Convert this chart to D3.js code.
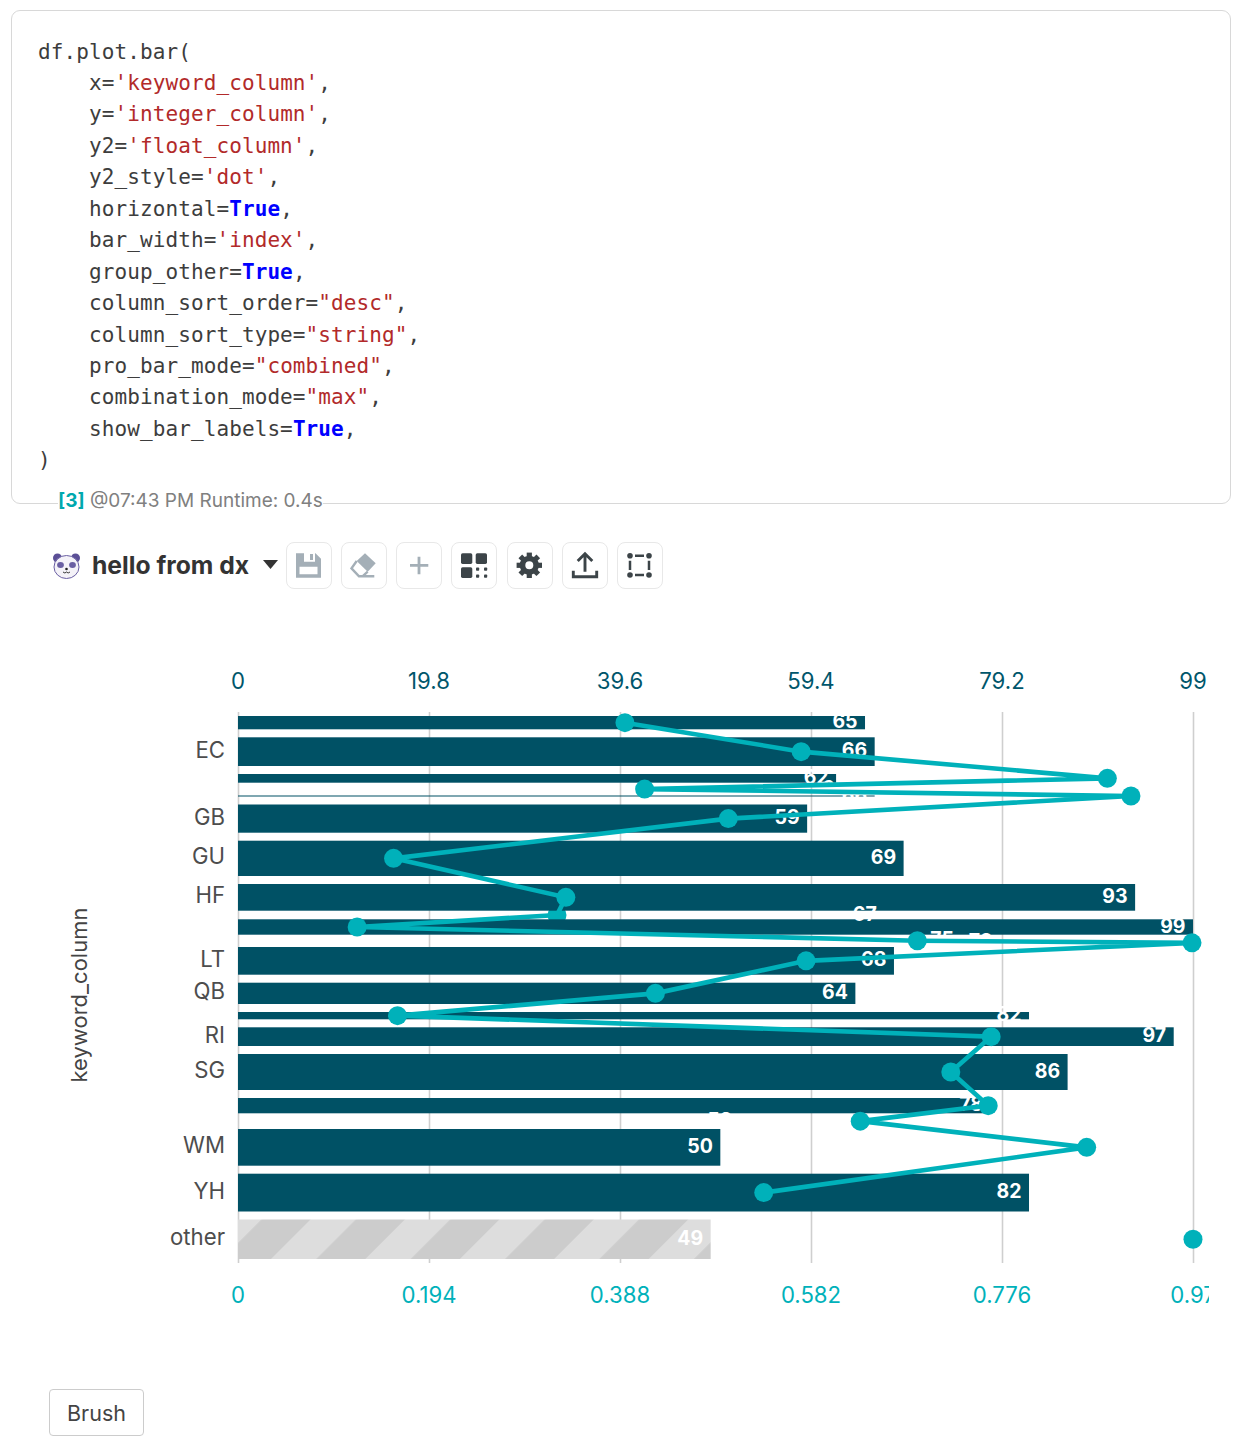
<!DOCTYPE html>
<html>
<head>
<meta charset="utf-8">
<script src="https://d3js.org/d3.v7.min.js"></script>
<style>
  html, body { margin: 0; padding: 0; background: #fff; }
  body { position: relative; width: 1245px; height: 1441px; overflow: hidden; font-family: Inter, sans-serif; }
  #cell { position: absolute; left: 11px; top: 10px; width: 1218px; height: 492px; border: 1px solid #d8d8d8; border-radius: 9px; }
  #code { position: absolute; left: 38px; top: 36.5px; margin: 0; font: 21px/31.45px "DejaVu Sans Mono", monospace; letter-spacing: 0.1px; color: #3d3d3d; }
  #code .s { color: #b22a2a; }
  #code .k { color: #0000ff; font-weight: bold; }
  #run { position: absolute; left: 58px; top: 490px; background: #fff; font-size: 19px; line-height: 22px; color: #808080; white-space: pre; }
  #run b { color: #00a8ae; }
  #title { position: absolute; left: 92px; top: 550px; font-size: 24.7px; line-height: 31px; font-weight: 700; color: #333; }
  .btn { position: absolute; top: 541.5px; width: 46.5px; height: 47px; box-sizing: border-box; border: 1px solid #e8e8e8; border-radius: 8px; }
  #brush { position: absolute; left: 49px; top: 1389px; width: 93px; height: 45px; border: 1px solid #ccc; border-radius: 4px; font-size: 21.5px; line-height: 46px; text-align: center; color: #444; }
  svg { position: absolute; left: 0; top: 0; }
</style>
</head>
<body>
<div id="cell"></div>
<pre id="code">df.plot.bar(
    x=<span class="s">'keyword_column'</span>,
    y=<span class="s">'integer_column'</span>,
    y2=<span class="s">'float_column'</span>,
    y2_style=<span class="s">'dot'</span>,
    horizontal=<span class="k">True</span>,
    bar_width=<span class="s">'index'</span>,
    group_other=<span class="k">True</span>,
    column_sort_order=<span class="s">"desc"</span>,
    column_sort_type=<span class="s">"string"</span>,
    pro_bar_mode=<span class="s">"combined"</span>,
    combination_mode=<span class="s">"max"</span>,
    show_bar_labels=<span class="k">True</span>,
)</pre>
<div id="run"><b>[3]</b> @07:43 PM Runtime: 0.4s</div>
<div id="title">hello from dx</div>
<div class="btn" style="left:285.5px"></div>
<div class="btn" style="left:340.5px"></div>
<div class="btn" style="left:395.5px"></div>
<div class="btn" style="left:450.5px"></div>
<div class="btn" style="left:506.5px"></div>
<div class="btn" style="left:561.5px"></div>
<div class="btn" style="left:616.5px"></div>
<div id="brush">Brush</div>

<script>
// chart data, rows top to bottom (blank = label hidden in the chart)
const categories = ["", "EC", "", "", "", "GB", "GU", "HF", "", "", "", "", "LT", "QB", "", "RI", "SG", "", "", "WM", "YH", "other"];
const integerColumn = [65, 66, 62, 64, 66, 59, 69, 93, 67, 99, 75, 79, 68, 64, 82, 97, 86, 78, 52, 50, 82, 49];
const floatColumn = [0.393, 0.572, 0.883, 0.413, 0.907, 0.498, 0.158, 0.333, 0.324, 0.121, 0.690, 0.969, 0.577, 0.424, 0.162, 0.765, 0.724, 0.762, 0.632, 0.862, 0.534, 0.97];
// bar_width='index' : thickness of each row
const indexColumn = [21.3, 36.7, 16.7, 4.8, 9, 36.2, 43.3, 34.7, 0.6, 23.4, 4, 0.3, 35.7, 29.3, 15.3, 26.7, 44, 23.3, 7.7, 44.7, 45.8, 47.5];
const topTicks = [0, 19.8, 39.6, 59.4, 79.2, 99];
const bottomTicks = [0, 0.194, 0.388, 0.582, 0.776, 0.97];

const barColor = "#005165", dotColor = "#00b1ba";
const margin = {top: 712, left: 238, bottom: 1263, right: 1193};
const rowGap = 8;

const svg = d3.select("body").append("svg")
    .attr("width", 1209)
    .attr("height", 1441)
    .style("overflow", "hidden");

// hatch for the "other" row
const defs = svg.append("defs");
const hatch = defs.append("pattern")
    .attr("id", "hatch")
    .attr("patternUnits", "userSpaceOnUse")
    .attr("width", 66.75)
    .attr("height", 66.75)
    .attr("patternTransform", "translate(1530 0) rotate(45)");
hatch.append("rect").attr("width", 66.75).attr("height", 66.75).attr("fill", "#cccccc");
hatch.append("rect").attr("width", 32.1).attr("height", 66.75).attr("fill", "#dddddd");

// scales
const x = d3.scaleLinear().domain([0, 99]).range([margin.left, margin.right]);
const x2 = d3.scaleLinear().domain([0, 0.97]).range([margin.left, margin.right]);
const y = d3.scaleLinear().domain([0, d3.sum(indexColumn)]).range([margin.top, margin.bottom]);

const rowEdges = [0, ...d3.cumsum(indexColumn)];
const rows = categories.map((c, i) => ({
  i: i,
  y0: y(rowEdges[i]),
  y1: y(rowEdges[i + 1]),
  cy: (y(rowEdges[i]) + y(rowEdges[i + 1])) / 2,
  value: integerColumn[i],
  dot: floatColumn[i]
}));
const yPos = d3.scaleOrdinal().domain(d3.range(rows.length)).range(rows.map(d => d.cy));

// top axis with the grid lines
const topAxis = svg.append("g")
    .attr("transform", `translate(0, ${margin.top})`)
    .call(d3.axisTop(x).tickValues(topTicks).tickSize(-(margin.bottom - margin.top)).tickFormat(d => d));
topAxis.select(".domain").remove();
topAxis.selectAll("line").attr("stroke", "#cfcfcf").attr("stroke-width", 1.6);
topAxis.selectAll("text")
    .attr("x", -0.5)
    .attr("y", -23)
    .attr("fill", "#00566b")
    .style("font", "22.2px Inter");

// this dot sits under the next bar in the original
const dotsBelow = rows.filter(d => d.i === 8);
svg.selectAll("circle.below")
  .data(dotsBelow)
  .join("circle")
    .attr("class", "below")
    .attr("cx", d => x2(d.dot))
    .attr("cy", d => d.cy)
    .attr("r", 9.5)
    .attr("fill", dotColor);

// bars
svg.selectAll("rect.bar")
  .data(rows)
  .join("rect")
    .attr("class", "bar")
    .attr("x", x(0))
    .attr("y", d => d.y0 + rowGap / 2)
    .attr("width", d => x(d.value) - x(0))
    .attr("height", d => Math.max(0, d.y1 - d.y0 - rowGap))
    .attr("fill", d => d.i === rows.length - 1 ? "url(#hatch)" : barColor);

// bar labels
svg.selectAll("text.barlabel")
  .data(rows)
  .join("text")
    .attr("class", "barlabel")
    .attr("x", d => x(d.value) - 7.5)
    .attr("y", d => d.cy - 1.5)
    .attr("dy", "0.36em")
    .attr("text-anchor", "end")
    .attr("fill", "#fff")
    .style("font", "700 19.5px Inter")
    .text(d => d.value);

// y axis
const leftAxis = svg.append("g")
    .attr("transform", `translate(${margin.left}, 0)`)
    .call(d3.axisLeft(yPos).tickSize(0).tickPadding(13).tickFormat(i => categories[i]));
leftAxis.select(".domain").remove();
leftAxis.selectAll("text")
    .attr("y", -1.5)
    .attr("fill", "#4d4d4d")
    .style("font", "22.2px Inter");

svg.append("text")
    .attr("transform", "translate(87, 995) rotate(-90)")
    .attr("text-anchor", "middle")
    .attr("fill", "#444")
    .style("font", "22px Inter")
    .text("keyword_column");

// bottom axis
const bottomAxis = svg.append("g")
    .attr("transform", `translate(0, ${margin.bottom})`)
    .call(d3.axisBottom(x2).tickValues(bottomTicks).tickSize(0).tickFormat(d => d));
bottomAxis.select(".domain").remove();
bottomAxis.selectAll("text")
    .attr("x", -0.5)
    .attr("y", 24)
    .attr("fill", "#00b1ba")
    .style("font", "22.2px Inter");

// line through every row but "other"
const line = d3.line().x(d => x2(d.dot)).y(d => d.cy);
svg.append("path")
    .datum(rows.slice(0, rows.length - 1))
    .attr("d", line)
    .attr("fill", "none")
    .attr("stroke", dotColor)
    .attr("stroke-width", 4.6);

svg.selectAll("circle.dot")
  .data(rows.filter(d => d.i !== 8))
  .join("circle")
    .attr("class", "dot")
    .attr("cx", d => x2(d.dot))
    .attr("cy", d => d.cy)
    .attr("r", 9.5)
    .attr("fill", dotColor);

// toolbar icons
const icons = d3.select("body").append("svg").attr("width", 1245).attr("height", 620);
const dark = "#3c4448", pale = "#a4afb7";

// panda
const panda = icons.append("g").attr("transform", "translate(66.5, 566)");
panda.append("circle").attr("cx", -9).attr("cy", -8).attr("r", 4.5).attr("fill", "#5b4f96");
panda.append("circle").attr("cx", 9).attr("cy", -8).attr("r", 4.5).attr("fill", "#5b4f96");
panda.append("ellipse").attr("rx", 12.5).attr("ry", 11.5).attr("cy", 1).attr("fill", "#f4f2f8").attr("stroke", "#6a5fa3").attr("stroke-width", 1);
panda.append("ellipse").attr("cx", -6).attr("cy", -1).attr("rx", 3.4).attr("ry", 3).attr("fill", "#6a5fa3");
panda.append("ellipse").attr("cx", 6).attr("cy", -1).attr("rx", 3.4).attr("ry", 3).attr("fill", "#6a5fa3");
panda.append("circle").attr("cy", 3).attr("r", 1.3).attr("fill", "#222");
panda.append("path").attr("d", "M-3.5,6 Q-1.5,8 0,6 Q1.5,8 3.5,6").attr("fill", "none").attr("stroke", "#222").attr("stroke-width", 0.9);

// dropdown caret
icons.append("path").attr("d", "M263,560 h15 l-7.5,9 z").attr("fill", "#333");

// save
icons.append("path")
    .attr("d", "M296,553.3 h19.5 l5.5,5.5 v19 h-25 z M304,553.3 v8.5 h11 v-8.5 z M299.5,566.7 v7.6 h18 v-7.6 z")
    .attr("fill", pale).attr("fill-rule", "evenodd");
icons.append("rect").attr("x", 310).attr("y", 554).attr("width", 3).attr("height", 6).attr("fill", pale);
// eraser
icons.append("path").attr("d", "M365,553.3 L375.7,563.3 L367.7,571.7 L356.7,561 z").attr("fill", pale);
icons.append("path")
    .attr("d", "M356.7,561 L351.5,568.3 L359,576.3 H374.3 M367.7,571.7 L362.5,576.3")
    .attr("fill", "none").attr("stroke", pale).attr("stroke-width", 2.4);
// plus
icons.append("path").attr("d", "M419,556.7 v17.6 M410,565.4 h18.3").attr("stroke", pale).attr("stroke-width", 2.8).attr("fill", "none");
// layout grid
[[461, 553.3], [475.7, 553.3], [461, 567.3]].forEach(p => {
  icons.append("rect").attr("x", p[0]).attr("y", p[1]).attr("width", 11.3).attr("height", 10.6).attr("rx", 1.6).attr("fill", dark);
});
[[476, 567.5], [484, 567.5], [476, 574.5], [484, 574.5]].forEach(p => {
  icons.append("rect").attr("x", p[0]).attr("y", p[1]).attr("width", 3.2).attr("height", 3.2).attr("rx", 0.8).attr("fill", dark);
});
// gear
const gear = icons.append("g").attr("transform", "translate(529.3, 565.3)");
gear.append("circle").attr("r", 6.8).attr("fill", "none").attr("stroke", dark).attr("stroke-width", 5.6);
d3.range(8).forEach(i => {
  gear.append("rect").attr("x", -2.6).attr("y", -12.7).attr("width", 5.2).attr("height", 5.2)
      .attr("fill", dark).attr("transform", `rotate(${i * 45})`);
});
// upload
icons.append("path")
    .attr("d", "M585,554 v17.7 M577.7,561 L585,553.8 L592.3,561 M573.3,570.7 v6 h23.4 v-6")
    .attr("fill", "none").attr("stroke", dark).attr("stroke-width", 2.9);
// frame
icons.append("path")
    .attr("d", "M635,555.7 h9 M635,575 h9 M630,560.7 v9.3 M649,560.7 v9.3")
    .attr("fill", "none").attr("stroke", dark).attr("stroke-width", 2.5);
[[630, 555.7], [649, 555.7], [630, 575], [649, 575]].forEach(p => {
  icons.append("circle").attr("cx", p[0]).attr("cy", p[1]).attr("r", 2.8).attr("fill", dark);
});
</script>
</body>
</html>
